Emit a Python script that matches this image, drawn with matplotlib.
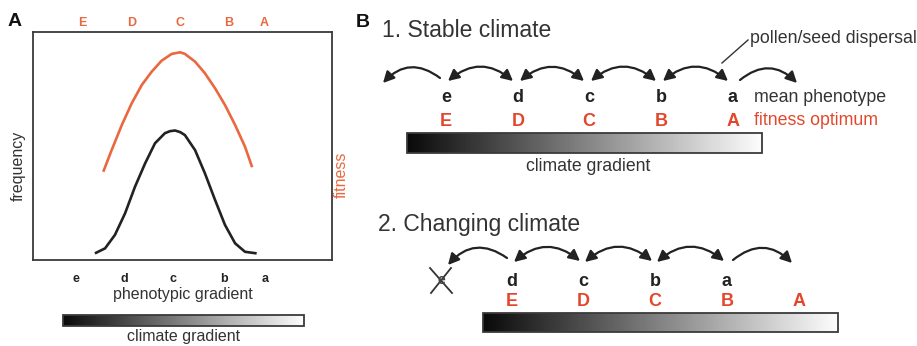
import numpy as np
import matplotlib.pyplot as plt
from matplotlib.patches import FancyArrowPatch, Rectangle
from matplotlib import transforms

plt.rcParams['font.family'] = ['Liberation Sans', 'DejaVu Sans']

# ---- panel A data (x: phenotypic gradient 0-100, y: 0-100) ----
pheno_labels = ['e', 'd', 'c', 'b', 'a']
pheno_pos = [14.4, 30.4, 46.8, 63.9, 77.6]
optimum_labels = ['E', 'D', 'C', 'B', 'A']
optimum_pos = [16.4, 33.1, 49.2, 65.6, 77.3]

fitness_x = [23.5, 26.3, 29.7, 33.0, 36.4, 39.7, 43.0, 46.4, 49.2, 50.8, 54.2,
             57.5, 60.9, 64.2, 67.6, 70.9, 73.3]
fitness_y = [38.7, 48.2, 59.2, 68.7, 76.8, 82.6, 87.4, 90.4, 91.1, 90.4, 87.0,
             81.9, 75.3, 68.0, 59.2, 49.7, 40.7]

freq_x = [20.7, 24.1, 27.4, 30.8, 34.1, 37.5, 40.8, 44.1, 45.8, 47.5, 49.2,
          50.8, 54.2, 57.5, 60.9, 64.2, 67.6, 70.9, 74.8]
freq_y = [2.9, 5.1, 11.0, 20.5, 32.1, 42.4, 51.2, 55.6, 56.5, 56.8, 56.1,
          54.8, 48.2, 38.0, 26.3, 15.4, 7.3, 3.6, 2.9]

# ---- panel B labels ----
stable_pheno = ['e', 'd', 'c', 'b', 'a']
stable_optimum = ['E', 'D', 'C', 'B', 'A']
changing_pheno = ['e', 'd', 'c', 'b', 'a']   # first one goes extinct
changing_optimum = ['E', 'D', 'C', 'B', 'A']

orange_a = '#EA6840'
orange_b = '#E2472B'
dark = '#222222'
txt = '#333333'

W, H = 917, 346
fig = plt.figure(figsize=(W / 100, H / 100), dpi=100)
ov = fig.add_axes([0, 0, 1, 1])
ov.axis('off')


def climate_bar(x0, x1, y0, y1):
    ramp = np.linspace(0.04, 0.99, 256)[None, :]
    ov.imshow(ramp, cmap='gray', vmin=0, vmax=1, extent=(x0, x1, y1, y0),
              aspect='auto', zorder=1, interpolation='bilinear')
    ov.add_patch(Rectangle((x0, y0), x1 - x0, y1 - y0, fill=False,
                           ec='#3a3a3a', lw=1.3, zorder=2))


def arc_arrow(x0, y0, x1, y1, both=False, rad=-0.42):
    style = ('<|-|>' if both else '-|>') + ',head_length=0.55,head_width=0.28'
    ov.add_patch(FancyArrowPatch((x0, y0), (x1, y1), arrowstyle=style,
                                 connectionstyle=f'arc3,rad={rad}',
                                 mutation_scale=12, lw=1.6, color=dark,
                                 shrinkA=0, shrinkB=0, zorder=3))


# ---------------- panel A ----------------
ax = fig.add_axes([33 / W, (H - 260) / H, 299 / W, 228 / H])
ax.set_xlim(0, 100)
ax.set_ylim(0, 100)
ax.plot(fitness_x, fitness_y, color=orange_a, lw=1.9,
        solid_capstyle='butt', solid_joinstyle='round')
ax.plot(freq_x, freq_y, color=dark, lw=1.9,
        solid_capstyle='butt', solid_joinstyle='round')
ax.set_xticks([])
ax.set_yticks([])
for s in ax.spines.values():
    s.set_color('#3a3a3a')
    s.set_linewidth(1.3)

xpix = transforms.blended_transform_factory(ax.transData, ov.transData)
for lab, x in zip(optimum_labels, optimum_pos):
    ov.text(x, 26, lab, transform=xpix, ha='center', va='baseline',
            fontsize=9, fontweight='bold', color=orange_a)
for lab, x in zip(pheno_labels, pheno_pos):
    ov.text(x, 282, lab, transform=xpix, ha='center', va='baseline',
            fontsize=9, fontweight='bold', color=dark)

ov.text(183, 299, 'phenotypic gradient', ha='center', va='baseline',
        fontsize=11.5, color=txt)
ov.text(18, 166, 'frequency', rotation=90, ha='center', va='center',
        fontsize=11.5, color=txt)
ov.text(341, 175, 'fitness', rotation=90, ha='center', va='center',
        fontsize=11.5, color=orange_a)
climate_bar(63, 304, 315, 326)
ov.text(183.5, 341, 'climate gradient', ha='center', va='baseline',
        fontsize=11.5, color=txt)

ov.text(8, 26, 'A', fontsize=14, fontweight='bold', va='baseline', color='#111')
ov.text(356, 27, 'B', fontsize=14, fontweight='bold', va='baseline', color='#111')

# ---------------- panel B, 1. stable ----------------
ov.text(382, 37, '1. Stable climate', fontsize=16.5, va='baseline', color=txt)
row1_x = [446, 518, 589, 661, 733]
for lo, up, x in zip(stable_pheno, stable_optimum, row1_x):
    ov.text(x, 102, lo, ha='center', va='baseline', fontsize=13,
            fontweight='bold', color=dark)
    ov.text(x, 126, up, ha='center', va='baseline', fontsize=13,
            fontweight='bold', color=orange_b)
ov.text(754, 102, 'mean phenotype', va='baseline', fontsize=12.8, color=txt)
ov.text(754, 125, 'fitness optimum', va='baseline', fontsize=12.8, color=orange_b)

arc_arrow(row1_x[0] - 6, 78, row1_x[0] - 63, 83, rad=0.45)
for xa, xb in zip(row1_x[:-1], row1_x[1:]):
    arc_arrow(xa + 2, 81, xb - 5, 81, both=True)
arc_arrow(row1_x[-1] + 7, 80, row1_x[-1] + 64, 83, rad=-0.45)

ov.plot([722, 748], [63, 40], color=txt, lw=1)
ov.text(750, 43, 'pollen/seed dispersal', va='baseline', fontsize=12.8, color=txt)

climate_bar(407, 762, 133, 153)
ov.text(588, 171, 'climate gradient', ha='center', va='baseline',
        fontsize=12.7, color=txt)

# ---------------- panel B, 2. changing ----------------
ov.text(378, 231, '2. Changing climate', fontsize=16.5, va='baseline', color=txt)
row2_lo = [441, 512, 583, 655, 727]
row2_up = [512, 583, 655, 727, 799]
for i, (lab, x) in enumerate(zip(changing_pheno, row2_lo)):
    if i == 0:
        ov.text(x, 284, lab, ha='center', va='baseline', fontsize=10,
                fontweight='bold', color='#444')
        ov.plot([x - 11, x + 11], [268, 293], color=txt, lw=1.3)
        ov.plot([x - 10, x + 10], [293, 268], color=txt, lw=1.3)
    else:
        ov.text(x, 286, lab, ha='center', va='baseline', fontsize=13,
                fontweight='bold', color=dark)
for lab, x in zip(changing_optimum, row2_up):
    ov.text(x, 306, lab, ha='center', va='baseline', fontsize=13,
            fontweight='bold', color=orange_b)

arc_arrow(row2_lo[1] - 5, 258, row2_lo[0] + 7, 265, rad=0.45)
for xa, xb in zip(row2_lo[1:-1], row2_lo[2:]):
    arc_arrow(xa + 2, 262, xb - 3, 261, both=True)
arc_arrow(row2_lo[-1] + 6, 260, row2_lo[-1] + 65, 263, rad=-0.45)

climate_bar(483, 838, 313, 332)

ov.set_xlim(0, W)
ov.set_ylim(H, 0)
fig.savefig('out.png', dpi=100)
